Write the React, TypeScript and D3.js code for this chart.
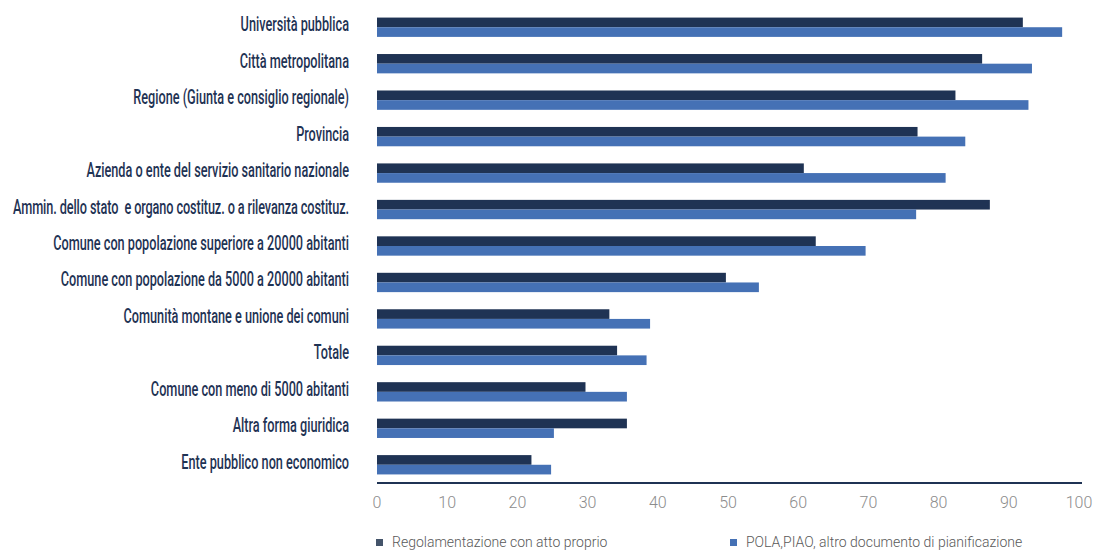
import React from "react";
import * as d3 from "d3";

const categories = [
  "Università pubblica",
  "Città metropolitana",
  "Regione (Giunta e consiglio regionale)",
  "Provincia",
  "Azienda o ente del servizio sanitario nazionale",
  "Ammin. dello stato  e organo costituz. o a rilevanza costituz.",
  "Comune con popolazione superiore a 20000 abitanti",
  "Comune con popolazione da 5000 a 20000 abitanti",
  "Comunità montane e unione dei comuni",
  "Totale",
  "Comune con meno di 5000 abitanti",
  "Altra forma giuridica",
  "Ente pubblico non economico",
];
const regolamentazione = [92.0, 86.2, 82.4, 77.0, 60.8, 87.3, 62.5, 49.7, 33.1, 34.2, 29.7, 35.6, 22.0];
const pola = [97.6, 93.3, 92.8, 83.8, 81.0, 76.8, 69.6, 54.4, 38.9, 38.4, 35.6, 25.2, 24.8];
const seriesNames = ["Regolamentazione con atto proprio", "POLA,PIAO, altro documento di pianificazione"];
const ticks = [0, 10, 20, 30, 40, 50, 60, 70, 80, 90, 100];

const W = 1107;
const H = 552;
const DARK = "#1f3354";
const LIGHT = "#4571b5";
const LABEL_FONT = 19.5;
const LABEL_SCALE = 0.651;
const LABEL_RIGHT = 349;
const LABEL_LEFT_MIN = 13;

export default function App() {
  const x = d3.scaleLinear().domain([0, 100]).range([377, 1079]);
  const y = d3.scaleBand<string>().domain(categories).range([9, 483]).paddingInner(0.47).paddingOuter(0.235);
  const bh = y.bandwidth() / 2;
  // the longest label fills the whole left margin, as in the reference
  const longest = categories.reduce((a, b) => (b.length > a.length ? b : a));
  return (
    <svg width={W} height={H} style={{ position: "absolute", left: 0, top: 0, background: "#fff" }}>
      {categories.map((c, i) => {
        const y0 = y(c)!;
        const extra = c === longest ? { textLength: (LABEL_RIGHT - LABEL_LEFT_MIN) / LABEL_SCALE, lengthAdjust: "spacing" } : {};
        return (
          <g key={c}>
            <rect x={x(0)} y={y0} width={x(regolamentazione[i]) - x(0)} height={bh} fill={DARK} />
            <rect x={x(0)} y={y0 + bh} width={x(pola[i]) - x(0)} height={bh} fill={LIGHT} />
            <g transform={`translate(${LABEL_RIGHT},${y0 + bh}) scale(${LABEL_SCALE},1)`}>
              <text
                x={0}
                y={4}
                textAnchor="end"
                fill={DARK}
                {...extra}
                style={{ fontFamily: "Roboto, sans-serif", fontWeight: 500, fontSize: LABEL_FONT, whiteSpace: "pre" }}
              >
                {c}
              </text>
            </g>
          </g>
        );
      })}
      <line x1={x(0)} x2={1082} y1={483} y2={483} stroke={DARK} strokeWidth={2} />
      {ticks.map((t) => (
        <text
          key={t}
          x={x(t)}
          y={502}
          dy="0.35em"
          textAnchor="middle"
          fill="#8c8c8c"
          style={{ fontFamily: "Roboto, sans-serif", fontWeight: 300, fontSize: 16 }}
        >
          {t}
        </text>
      ))}
      {seriesNames.map((s, i) => {
        const lx = i === 0 ? 376 : 730;
        return (
          <g key={s}>
            <rect x={lx} y={539} width={7} height={7} fill={i === 0 ? "#44546a" : LIGHT} />
            <text
              x={lx + 16}
              y={542.5}
              dy="0.35em"
              fill="#595959"
              style={{ fontFamily: "Roboto, sans-serif", fontWeight: 300, fontSize: 14 }}
            >
              {s}
            </text>
          </g>
        );
      })}
    </svg>
  );
}
